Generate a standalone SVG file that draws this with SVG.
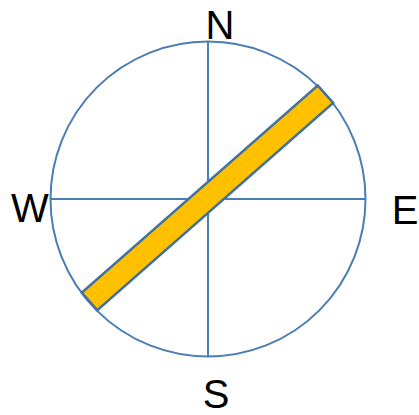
<svg xmlns="http://www.w3.org/2000/svg" width="419" height="415" viewBox="0 0 419 415">
<style>
.ln{fill:none;stroke:#4A7DB5;stroke-width:2}
.lbl{font-family:"Liberation Sans",Arial,sans-serif;font-size:40px;fill:#000;text-anchor:middle}
</style>
<rect width="419" height="415" fill="#fff"/>
<g id="compass">
<circle class="ln" cx="208" cy="199" r="157.5"/>
<line class="ln" x1="208" y1="41.5" x2="208" y2="356.5"/>
<line class="ln" x1="50.5" y1="199" x2="365.5" y2="199"/>
</g>
<g id="bar">
<rect x="-157" y="-11.7" width="314" height="23.4" fill="#FFC000" stroke="#41719C" stroke-width="2.5" transform="translate(207.5,197.8) rotate(-41.3)"/>
</g>
<g id="labels">
<text class="lbl" x="220" y="39">N</text>
<text class="lbl" x="30" y="222">W</text>
<text class="lbl" x="405" y="224">E</text>
<text class="lbl" x="216" y="408">S</text>
</g>
</svg>
